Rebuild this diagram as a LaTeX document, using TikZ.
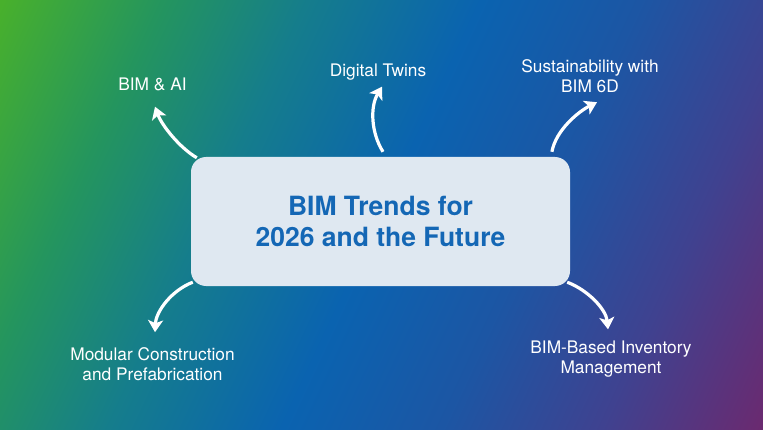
\documentclass[tikz,border=0pt]{standalone}
\usepackage{fontspec}
\setmainfont{TeX Gyre Heros}
\usetikzlibrary{arrows.meta}
\definecolor{bgA}{HTML}{48B02C}
\definecolor{bgB}{HTML}{24955E}
\definecolor{bgC}{HTML}{157D8C}
\definecolor{bgD}{HTML}{0A63B0}
\definecolor{bgE}{HTML}{1C56A4}
\definecolor{bgF}{HTML}{3F4290}
\definecolor{bgG}{HTML}{6A2A70}
\definecolor{hubfill}{HTML}{DFE8F1}
\definecolor{hubtext}{HTML}{1467B5}
\pgfdeclarehorizontalshading{bimsky}{100bp}{color(0bp)=(bgA); color(17bp)=(bgA); color(28bp)=(bgB); color(38bp)=(bgC); color(50bp)=(bgD); color(61bp)=(bgE); color(72bp)=(bgF); color(83bp)=(bgG); color(100bp)=(bgG)}
\tikzstyle{hub}=[rounded corners=15pt,fill=hubfill,text=hubtext,align=center,inner sep=0pt,minimum width=379pt,minimum height=129pt,font=\fontsize{26.5}{31}\selectfont\bfseries]
\tikzstyle{trend}=[text=white,align=center,inner sep=0pt,font=\fontsize{17.3}{19.5}\selectfont]
\tikzstyle{trendarrow}=[draw=white,line width=3.2pt,-{Stealth[length=12pt,width=15pt,inset=3pt]}]

\begin{document}
\begin{tikzpicture}[x=1pt,y=1pt]
    % Background first
    \useasboundingbox (0,0) rectangle (763,429);
    \shade[shading=bimsky,shading angle=-25] (0,0) rectangle (763,429);

    % The centre box
    \node[hub] (core) at (380.5,207.5) {BIM Trends for\\2026 and the Future};

    % Then the trend labels
    \foreach \pos/\name/\label in {{(152.5,345)/ai/{BIM \& AI}}, {(378,357)/twins/{Digital Twins}}, {(590,353)/green/{Sustainability with\\BIM 6D}}, {(152.5,64.75)/modular/{Modular Construction\\and Prefabrication}}, {(611,69.75)/stock/{BIM-Based Inventory\\Management}}}
        \node[trend] (\name) at \pos {\label};

    % Curved arrows from the box out to the labels
    \draw[trendarrow] ([shift={(6,-1)}]core.north west) .. controls +(-17,10) and +(7,-19) .. ([shift={(2.5,-16)}]ai.south);
    \draw[trendarrow] ([shift={(2.5,5)}]core.north) .. controls +(-12,19) and +(-12,-20) .. ([shift={(4,-6.3)}]twins.south);
    \draw[trendarrow] ([shift={(-18.3,5)}]core.north east) .. controls +(4,22) and +(-18,-9) .. ([shift={(7,-9.7)}]green.south);
    \draw[trendarrow] ([shift={(2,4)}]core.south west) .. controls +(-21,-8) and +(1,21) .. ([shift={(2.5,15.5)}]modular.north);
    \draw[trendarrow] ([shift={(-3,4)}]core.south east) .. controls +(21,-8) and +(-2,20) .. ([shift={(-3,11.8)}]stock.north);
\end{tikzpicture}
\end{document}
